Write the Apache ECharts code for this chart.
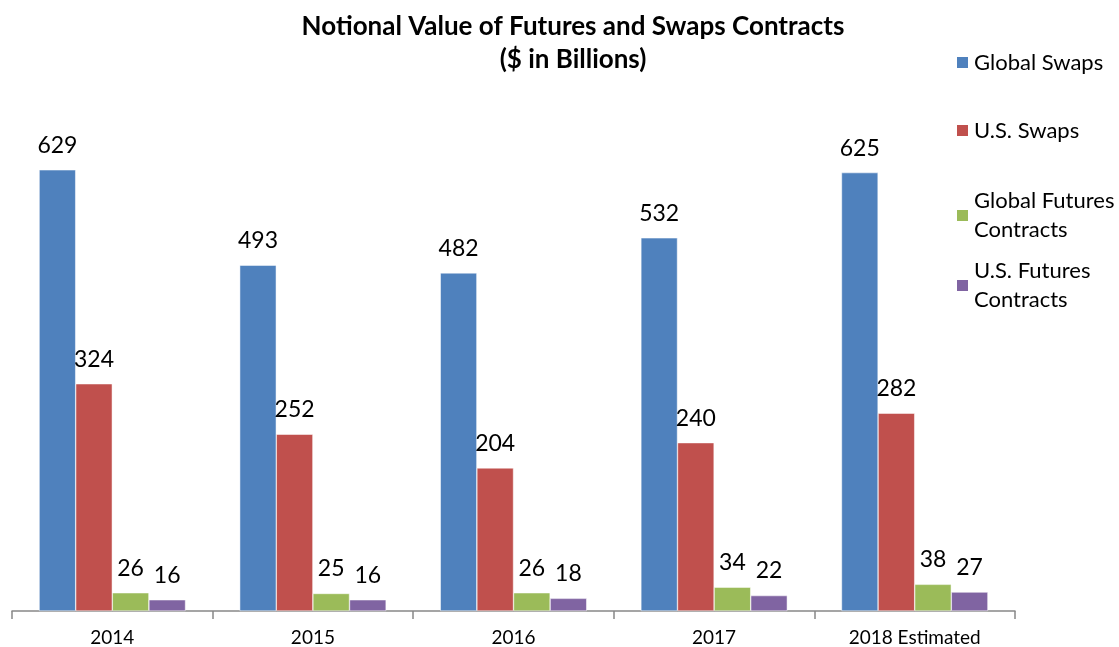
<!DOCTYPE html>
<html>
<head>
<meta charset="utf-8">
<script src="https://cdn.jsdelivr.net/npm/echarts@6/dist/echarts.min.js"></script>
<style>
  html, body { margin: 0; padding: 0; background: #fff; }
  #chart { width: 1119px; height: 647px; }
</style>
</head>
<body>
<div id="chart"></div>
<script>
const years = ['2014', '2015', '2016', '2017', '2018 Estimated'];
const seriesNames = ['Global Swaps', 'U.S. Swaps', 'Global Futures Contracts', 'U.S. Futures Contracts'];
const globalSwaps = [629, 493, 482, 532, 625];
const usSwaps = [324, 252, 204, 240, 282];
const globalFutures = [26, 25, 26, 34, 38];
const usFutures = [16, 16, 18, 22, 27];

const colors = ['#4F81BD', '#C0504D', '#9BBB59', '#8064A2'];
const font = 'Lato, "Open Sans", sans-serif';
const values = [globalSwaps, usSwaps, globalFutures, usFutures];

// legend: one block per item so the two-line entries keep the square on line one
const legendTops = [48, 116, 172, 242];
const legendText = {
  'Global Swaps': 'Global Swaps',
  'U.S. Swaps': 'U.S. Swaps',
  'Global Futures Contracts': 'Global Futures\nContracts',
  'U.S. Futures Contracts': 'U.S. Futures\nContracts'
};
const lineH = 29;

const chart = echarts.init(document.getElementById('chart'));
chart.setOption({
  animation: false,
  color: colors,
  title: {
    text: 'Notional Value of Futures and Swaps Contracts\n($ in Billions)',
    left: 568,
    textAlign: 'center',
    top: 5,
    textStyle: { fontFamily: font, fontSize: 26, fontWeight: 'bold', color: '#000', lineHeight: 33 }
  },
  legend: seriesNames.map((name, i) => ({
    data: [name],
    orient: 'vertical',
    left: 955,
    top: legendTops[i],
    padding: 0,
    itemWidth: 13,
    itemHeight: 13,
    icon: 'rect',
    selectedMode: false,
    formatter: (n) => legendText[n],
    textStyle: {
      fontFamily: font, fontSize: 22, color: '#000', lineHeight: lineH,
      padding: legendText[name].includes('\n') ? [lineH, 0, 0, 0] : 0
    }
  })),
  grid: { left: 12, right: 104, top: 120, bottom: 36 },
  xAxis: {
    type: 'category',
    data: years,
    axisLine: { lineStyle: { color: '#888', width: 1.5 } },
    axisTick: { show: true, length: 8, lineStyle: { color: '#888', width: 1.5 } },
    axisLabel: { color: '#000', fontFamily: font, fontSize: 19, margin: 17 }
  },
  yAxis: { type: 'value', min: 0, max: 700, show: false, splitLine: { show: false } },
  series: seriesNames.map((name, i) => ({
    name: name,
    type: 'bar',
    data: values[i],
    barGap: '0%',
    barCategoryGap: '27%',
    itemStyle: { color: colors[i], borderColor: '#fff', borderWidth: 0.5 },
    label: {
      show: true, position: 'top', distance: 13,
      color: '#000', fontFamily: font, fontSize: 23
    }
  }))
});
</script>
</body>
</html>
